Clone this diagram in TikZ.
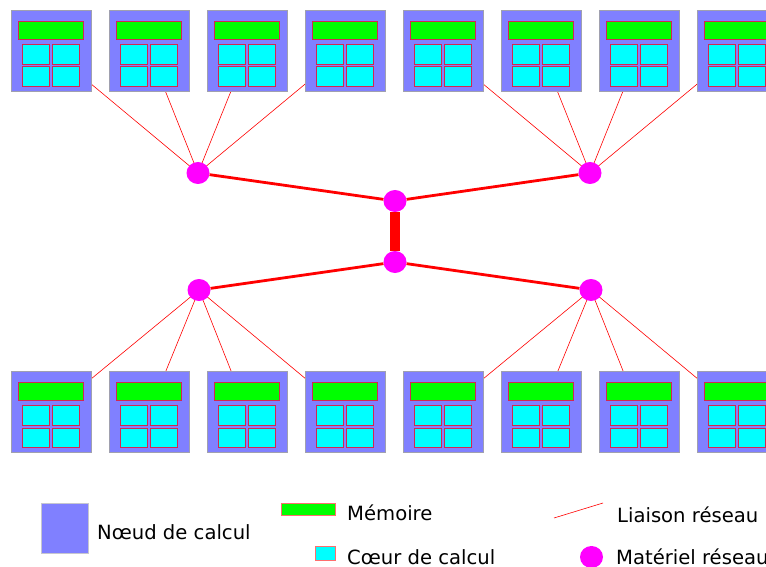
\documentclass[tikz,border=0pt]{standalone}
\usepackage{fontspec}
\setmainfont{DejaVu Sans}
\usetikzlibrary{shapes.geometric}
\definecolor{nodeblue}{RGB}{128,128,255}
\definecolor{memgreen}{RGB}{0,255,0}
\definecolor{corecyan}{RGB}{0,255,255}
\definecolor{swmag}{RGB}{255,0,255}
\definecolor{edgegrey}{RGB}{160,160,175}
\definecolor{partred}{RGB}{210,40,80}
\definecolor{legred}{RGB}{255,110,110}
\begin{document}
\begin{tikzpicture}[x=1pt,y=-1pt,
  block/.style={draw=edgegrey,line width=0.8pt,fill=nodeblue,minimum width=80.5pt,minimum height=81.5pt,inner sep=0pt,outer sep=0pt},
  mem/.style={draw=partred,line width=0.7pt,fill=memgreen,minimum width=65pt,minimum height=18pt,inner sep=0pt,anchor=north west},
  core/.style={draw=partred,line width=0.7pt,fill=corecyan,minimum width=26.5pt,minimum height=19.5pt,inner sep=0pt,anchor=north west},
  switch/.style={ellipse,fill=swmag,minimum width=23pt,minimum height=22pt,inner sep=0pt},
  thinlink/.style={red,line width=0.6pt},
  netlink/.style={red,line width=2.8pt},
  trunk/.style={red,line width=10.5pt},
  legtext/.style={font=\fontsize{19.6}{22}\selectfont,anchor=base west,inner sep=0pt}]
\useasboundingbox (0,0) rectangle (766,567);

% switch positions
\coordinate (c1) at (198,173);
\coordinate (c2) at (395,201);
\coordinate (c3) at (590,173);
\coordinate (c4) at (395,262);
\coordinate (c5) at (199,290);
\coordinate (c6) at (591,290);

% block centres
\foreach \i in {1,...,8}{
  \coordinate (tc\i) at ({11+98*(\i-1)+40.25},{10+40.75});
  \coordinate (bc\i) at ({11+98*(\i-1)+40.25},{371+40.75});
}

% thin links (drawn beneath the blocks)
\foreach \i in {1,...,4}{
  \draw[thinlink] (c1) -- (tc\i);
  \draw[thinlink] (c5) -- (bc\i);
}
\foreach \i in {5,...,8}{
  \draw[thinlink] (c3) -- (tc\i);
  \draw[thinlink] (c6) -- (bc\i);
}

% compute nodes
\foreach \r/\y in {t/10,b/371}{
  \foreach \i in {1,...,8}{
    \pgfmathsetmacro{\xo}{11+98*(\i-1)}
    \node[block,anchor=north west] (\r\i) at (\xo,\y) {};
    \node[mem] (\r\i m) at (\xo+7.3,\y+11.3) {};
    \node[core] (\r\i a) at (\xo+11.3,\y+34.3) {};
    \node[core] (\r\i b) at (\xo+41.3,\y+34.3) {};
    \node[core] (\r\i c) at (\xo+11.3,\y+56.5) {};
    \node[core] (\r\i d) at (\xo+41.3,\y+56.5) {};
  }
}

% network hardware
\node[switch] (s1) at (c1) {};
\node[switch] (s2) at (c2) {};
\node[switch] (s3) at (c3) {};
\node[switch] (s4) at (c4) {};
\node[switch] (s5) at (c5) {};
\node[switch] (s6) at (c6) {};

\draw[netlink] (s1) -- (s2);
\draw[netlink] (s2) -- (s3);
\draw[netlink] (s4) -- (s5);
\draw[netlink] (s4) -- (s6);
\draw[trunk] (s2) -- (s4);

% legend
\node[block,minimum width=47.5pt,minimum height=50pt,anchor=north west,draw=edgegrey!60] (lgnode) at (41,503) {};
\node[legtext] (lgnodet) at (97,539) {Nœud de calcul};
\node[mem,draw=legred,minimum width=54pt,minimum height=12pt] (lgmem) at (281,503) {};
\node[legtext] (lgmemt) at (347,520) {Mémoire};
\node[core,draw=legred,minimum width=20pt,minimum height=14pt] (lgcore) at (315,546) {};
\node[legtext] (lgcoret) at (347,564) {Cœur de calcul};
\coordinate (lga) at (554,518);
\coordinate (lgb) at (603,503);
\draw[thinlink] (lga) -- (lgb);
\node[legtext] (lglinkt) at (617,522) {Liaison réseau};
\node[switch] (lgsw) at (591.5,557) {};
\node[legtext] (lgswt) at (616,564) {Matériel réseau};
\end{tikzpicture}
\end{document}
